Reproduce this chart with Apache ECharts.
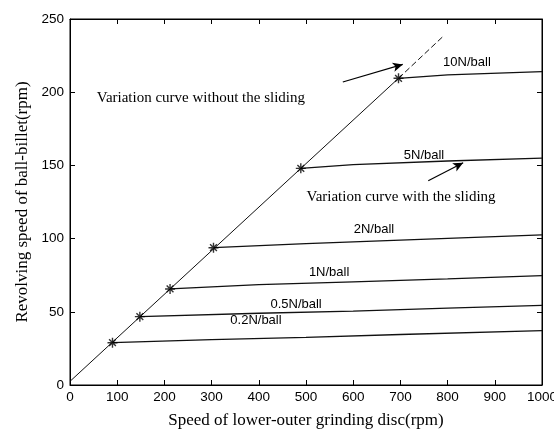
<!DOCTYPE html>
<html>
<head>
<meta charset="utf-8">
<script src="https://cdn.jsdelivr.net/npm/echarts@6/dist/echarts.min.js"></script>
<style>
  html, body { margin: 0; padding: 0; background: #fff; }
  #chart { width: 554px; height: 430px; }
</style>
</head>
<body>
<div id="chart"></div>
<script>
// Force levels and the ball-billet speed curves with sliding (rpm vs rpm)
const forceLabels = ['0.2N/ball', '0.5N/ball', '1N/ball', '2N/ball', '5N/ball', '10N/ball'];
const curve02 = [[90, 28.9], [300, 31], [500, 32.5], [700, 34.5], [1000, 37.1]];
const curve05 = [[148, 46.7], [400, 49], [600, 50.5], [800, 52.5], [1000, 54.4]];
const curve1  = [[212, 65.6], [400, 68.5], [600, 70.5], [800, 72.5], [1000, 74.7]];
const curve2  = [[304, 93.8], [500, 96.5], [700, 99], [1000, 102.5]];
const curve5  = [[489, 148], [600, 150.5], [800, 153], [1000, 155]];
const curve10 = [[696, 209.5], [800, 211.8], [1000, 214]];
const forceCurves = [curve02, curve05, curve1, curve2, curve5, curve10];

// Ideal curve without sliding
const noSlide = [[0, 2.5], [696, 209.5]];
const noSlideExt = [[696, 209.5], [790, 238]];

// Axis ticks
const xTicks = [0, 100, 200, 300, 400, 500, 600, 700, 800, 900, 1000];
const yTicks = [0, 50, 100, 150, 200, 250];

const SERIF = "'Liberation Serif', 'Times New Roman', serif";
const SANS = "'Liberation Sans', Arial, sans-serif";

// label anchor points (data coordinates) for each force curve
const labelAt = [[394, 43.9], [479, 55.3], [549, 76.7], [644, 106.6], [750, 157], [841, 220]];

const star = 'path://M0,5L10,5M5,0L5,10M1.6,1.6L8.4,8.4M8.4,1.6L1.6,8.4';

const chart = echarts.init(document.getElementById('chart'), null, { renderer: 'canvas' });

function axis(extra) {
  return Object.assign({
    type: 'value',
    axisLine: { show: true, onZero: false, lineStyle: { color: '#000', width: 1 } },
    axisTick: { show: true, inside: true, length: 5, lineStyle: { color: '#000', width: 1 } },
    splitLine: { show: false }
  }, extra);
}

const series = [];
forceCurves.forEach((c, i) => {
  series.push({
    name: forceLabels[i],
    type: 'line',
    data: c,
    showSymbol: false,
    lineStyle: { color: '#111', width: 1.3 },
    z: 3
  });
});
series.push({
  type: 'line', data: noSlide, showSymbol: false,
  lineStyle: { color: '#111', width: 1 }
});
series.push({
  type: 'line', data: noSlideExt, showSymbol: false,
  lineStyle: { color: '#111', width: 1, type: [6, 3] }
});
series.push({
  type: 'scatter',
  data: forceCurves.map(c => c[0]),
  symbol: star,
  symbolSize: 10,
  itemStyle: { color: '#000', borderColor: '#000', borderWidth: 1.4 },
  z: 5
});
// annotation arrows
series.push({
  type: 'line', data: [], showSymbol: false,
  markLine: {
    silent: true,
    symbol: ['none', 'arrow'],
    symbolSize: [7, 10],
    label: { show: false },
    lineStyle: { color: '#000', width: 1.2, type: 'solid' },
    data: [
      [{ coord: [578, 207] }, { coord: [705, 219] }],
      [{ coord: [759, 139.5] }, { coord: [833, 151.8] }]
    ]
  }
});
// mirror axes (top / right) carry the box ticks
series.push({ type: 'line', xAxisIndex: 1, yAxisIndex: 1, data: [], silent: true });

chart.setOption({
  animation: false,
  backgroundColor: '#fff',
  grid: {
    left: 70, top: 19, width: 472, height: 366,
    containLabel: false, outerBoundsMode: 'none',
    show: true, borderColor: '#000', borderWidth: 1, backgroundColor: 'transparent'
  },
  xAxis: [
    axis({
      min: xTicks[0], max: xTicks[xTicks.length - 1], interval: 100,
      position: 'bottom',
      name: 'Speed of lower-outer grinding disc(rpm)',
      nameLocation: 'middle', nameGap: 27,
      nameTextStyle: { fontFamily: SERIF, fontSize: 17, color: '#000' },
      axisLabel: { margin: 5, fontFamily: SANS, fontSize: 13.5, color: '#000', formatter: v => String(v) }
    }),
    axis({
      min: xTicks[0], max: xTicks[xTicks.length - 1], interval: 100,
      position: 'top', axisLabel: { show: false }
    })
  ],
  yAxis: [
    axis({
      min: yTicks[0], max: yTicks[yTicks.length - 1], interval: 50,
      position: 'left',
      name: 'Revolving speed of ball-billet(rpm)',
      nameLocation: 'middle', nameGap: 33,
      nameTextStyle: { fontFamily: SERIF, fontSize: 17, color: '#000' },
      axisLabel: { margin: 6, fontFamily: SANS, fontSize: 13.5, color: '#000', formatter: v => String(v) }
    }),
    axis({
      min: yTicks[0], max: yTicks[yTicks.length - 1], interval: 50,
      position: 'right', axisLabel: { show: false }
    })
  ],
  series: series
});

// curve labels and explanatory notes
const graphics = [];
forceLabels.forEach((t, i) => {
  const p = chart.convertToPixel({ gridIndex: 0 }, labelAt[i]);
  graphics.push({
    type: 'text', x: p[0], y: p[1],
    style: { text: t, fill: '#000', font: '13px ' + SANS, textAlign: 'center', textVerticalAlign: 'middle' },
    z: 10
  });
});
const notes = [
  ['Variation curve without the sliding', [56.6, 196]],
  ['Variation curve with the sliding', [501, 128.6]]
];
notes.forEach(n => {
  const p = chart.convertToPixel({ gridIndex: 0 }, n[1]);
  graphics.push({
    type: 'text', x: p[0], y: p[1],
    style: { text: n[0], fill: '#000', font: '15px ' + SERIF, textAlign: 'left', textVerticalAlign: 'middle' },
    z: 10
  });
});
chart.setOption({ graphic: graphics });
</script>
</body>
</html>
